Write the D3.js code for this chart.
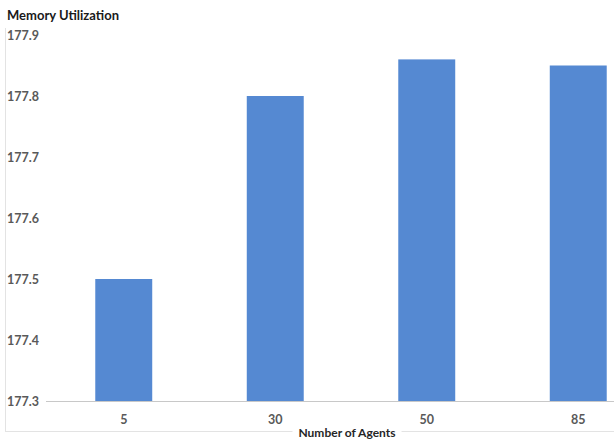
<!DOCTYPE html>
<html><head><meta charset="utf-8">
<script src="https://cdn.jsdelivr.net/npm/d3@7"></script>
<style>html,body{margin:0;padding:0;background:#fff;}</style>
</head><body>
<svg id="c" width="614" height="440"></svg>
<script>
const categories = ["5", "30", "50", "85"];
const values = [177.5, 177.8, 177.86, 177.85];
const yTicks = [177.3, 177.4, 177.5, 177.6, 177.7, 177.8, 177.9];
const title = "Memory Utilization";
const xTitle = "Number of Agents";

const svg = d3.select("#c");
const font = "Lato, 'Open Sans', sans-serif";

const x = d3.scaleBand().domain(categories).range([48, 654]).paddingInner(0.624).paddingOuter(0.312);
const y = d3.scaleLinear().domain([177.3, 177.9]).range([401, 35]);

// chart border (light)
svg.append("line").attr("x1", 5.5).attr("x2", 5.5).attr("y1", 28).attr("y2", 431.5).attr("stroke", "#e3e3e3");
svg.append("line").attr("x1", 5).attr("x2", 614).attr("y1", 431.5).attr("y2", 431.5).attr("stroke", "#e3e3e3");

// bars
svg.append("g").selectAll("rect").data(values).join("rect")
  .attr("x", (d, i) => x(categories[i]))
  .attr("width", x.bandwidth())
  .attr("y", d => y(d))
  .attr("height", d => y(177.3) - y(d))
  .attr("fill", "#5589d2");

// x axis
const xa = svg.append("g").attr("transform", "translate(0,401)").call(d3.axisBottom(x).tickSize(0).tickPadding(14));
xa.select(".domain").attr("stroke", "#c8c8c8").attr("d", "M46,0.5H614");
xa.selectAll("text").attr("font-family", font).attr("font-size", 12.5).attr("fill", "#595959").attr("font-weight", 700);

// y axis labels
const ya = svg.append("g").attr("transform", "translate(7,0)").call(d3.axisRight(y).tickValues(yTicks).tickSize(0).tickPadding(0).tickFormat(d3.format(".1f")));
ya.select(".domain").remove();
ya.selectAll("text").attr("font-family", font).attr("font-size", 12.5).attr("fill", "#595959").attr("font-weight", 700);

// x axis title
const bg = svg.append("rect").attr("fill", "#fff");
const xt = svg.append("text").attr("x", 347).attr("y", 437).attr("text-anchor", "middle")
  .attr("font-family", font).attr("font-size", 12).attr("font-weight", 700).attr("fill", "#262626").text(xTitle);
const bb = xt.node().getBBox();
bg.attr("x", bb.x - 6).attr("y", 428).attr("width", bb.width + 12).attr("height", 8);

// title
svg.append("text").attr("x", 7).attr("y", 20).attr("font-family", font).attr("font-size", 13).attr("font-weight", 700)
  .attr("fill", "#1a1a1a").text(title);
</script>
</body></html>
